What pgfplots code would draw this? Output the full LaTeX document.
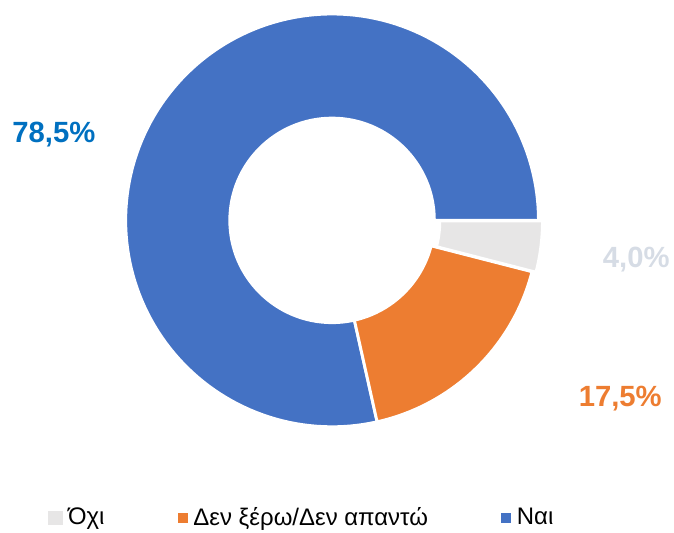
\documentclass[border=0pt]{standalone}
\usepackage{fontspec}
\setmainfont{Liberation Sans}
\usepackage{pgfplots}
\usepackage{pgfplotstable}
\pgfplotsset{compat=1.18}
\definecolor{cBlue}{HTML}{4472C4}
\definecolor{cOrange}{HTML}{ED7D31}
\definecolor{cGray}{HTML}{E7E6E6}
\definecolor{lBlue}{HTML}{0070C0}
\definecolor{lGray}{HTML}{D6DCE5}
\pgfplotstableread{
label value
Oxi 4.0
DenXero 17.5
Nai 78.5
}\piedata
\begin{document}
\begin{tikzpicture}
\pgfplotstablegetelem{0}{value}\of\piedata \let\vA\pgfplotsretval
\pgfplotstablegetelem{1}{value}\of\piedata \let\vB\pgfplotsretval
\pgfplotstablegetelem{2}{value}\of\piedata \let\vC\pgfplotsretval
\pgfmathsetmacro\aA{-3.6*\vA}
\pgfmathsetmacro\aB{-3.6*(\vA+\vB)}
\pgfmathsetmacro\aC{-3.6*(\vA+\vB+\vC)}
\begin{axis}[
  scale only axis, width=505.5pt, height=398.25pt,
  xmin=0, xmax=674, ymin=0, ymax=531,
  hide axis, clip=false,
  legend style={draw=none, fill=none, font=\fontsize{18}{21}\selectfont,
    at={(axis cs:303,12)}, anchor=center, legend columns=3,
    /tikz/every odd column/.append style={column sep=2.5pt},
    /tikz/every even column/.append style={column sep=53pt}},
  legend cell align=left,
]
\path (axis cs:0,0) (axis cs:674,531);
% blue: Nai
\addplot[draw=white, line width=2.2pt, fill=cBlue, domain=\aB:\aC, samples=150, variable=\t, forget plot]
  ({333+207*cos(\t)}, {310+207*sin(\t)}) -- (axis cs:333,310) -- cycle;
% orange: Den xero
\addplot[draw=white, line width=2.2pt, fill=cOrange, domain=\aA:\aB, samples=60, variable=\t, forget plot]
  ({333+207*cos(\t)}, {310+207*sin(\t)}) -- (axis cs:333,310) -- cycle;
% hole
\fill[white] (axis cs:333,310) circle[radius=104];
% gray: Oxi (slightly exploded)
\addplot[draw=white, line width=2.2pt, fill=cGray, domain=0:\aA, samples=30, variable=\t, forget plot]
  ({337+207*cos(\t)}, {309.5+207*sin(\t)}) -- (axis cs:337,309.5) -- cycle;
\addplot[draw=white, line width=2.2pt, fill=white, domain=0:\aA, samples=30, variable=\t, forget plot]
  ({337+104*cos(\t)}, {309.5+104*sin(\t)}) -- (axis cs:337,309.5) -- cycle;
% legend entries
\addlegendimage{legend image code/.code={\fill[cGray] (0pt,-5pt) rectangle (10pt,5pt);}}
\addlegendentry{Όχι}
\addlegendimage{legend image code/.code={\fill[cOrange] (2pt,-3.5pt) rectangle (9pt,3.5pt);}}
\addlegendentry{Δεν ξέρω/Δεν απαντώ}
\addlegendimage{legend image code/.code={\fill[cBlue] (2pt,-3.5pt) rectangle (9pt,3.5pt);}}
\addlegendentry{Ναι}
% data labels
\node[font=\fontsize{22}{26}\selectfont\bfseries, text=lBlue] at (axis cs:54,396) {78,5\%};
\node[font=\fontsize{22}{26}\selectfont\bfseries, text=cOrange] at (axis cs:622,131) {17,5\%};
\node[font=\fontsize{22}{26}\selectfont\bfseries, text=lGray] at (axis cs:638,271) {4,0\%};
\end{axis}
\end{tikzpicture}
\end{document}
